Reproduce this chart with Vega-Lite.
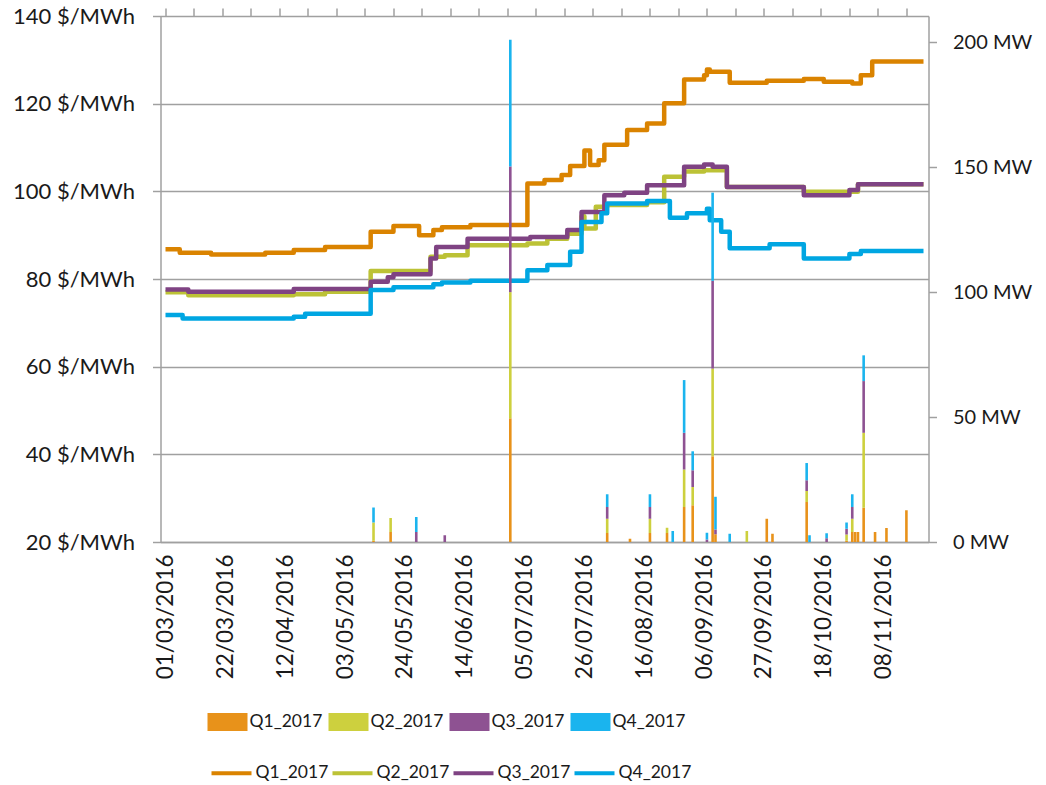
{
  "$schema": "https://vega.github.io/schema/vega-lite/v6.json",
  "width": 768,
  "height": 526,
  "autosize": {"type": "none"},
  "padding": {"left": 160.5, "top": 16, "right": 117.5, "bottom": 243},
  "config": {
    "view": {"stroke": null},
    "font": "Lato",
    "axis": {
      "labelFont": "Lato",
      "labelColor": "#1a1a1a",
      "domainColor": "#a0a0a0",
      "tickColor": "#a0a0a0",
      "gridColor": "#a0a0a0",
      "domainWidth": 1.5,
      "tickWidth": 1.5,
      "gridWidth": 1.5,
      "tickSize": 8
    },
    "legend": {"labelFont": "Lato", "labelColor": "#1a1a1a", "padding": 0}
  },
  "datasets": {
    "lines": [
      {"date": "2016-03-01", "series": "Q1_2017", "price": 86.8},
      {"date": "2016-03-06", "series": "Q1_2017", "price": 86.0},
      {"date": "2016-03-17", "series": "Q1_2017", "price": 85.6},
      {"date": "2016-04-05", "series": "Q1_2017", "price": 86.0},
      {"date": "2016-04-15", "series": "Q1_2017", "price": 86.6},
      {"date": "2016-04-26", "series": "Q1_2017", "price": 87.3},
      {"date": "2016-05-12", "series": "Q1_2017", "price": 90.8},
      {"date": "2016-05-20", "series": "Q1_2017", "price": 92.1},
      {"date": "2016-05-29", "series": "Q1_2017", "price": 90.0},
      {"date": "2016-06-03", "series": "Q1_2017", "price": 91.2},
      {"date": "2016-06-06", "series": "Q1_2017", "price": 91.8},
      {"date": "2016-06-16", "series": "Q1_2017", "price": 92.3},
      {"date": "2016-07-06", "series": "Q1_2017", "price": 101.8},
      {"date": "2016-07-12", "series": "Q1_2017", "price": 102.6},
      {"date": "2016-07-18", "series": "Q1_2017", "price": 103.7},
      {"date": "2016-07-21", "series": "Q1_2017", "price": 105.8},
      {"date": "2016-07-26", "series": "Q1_2017", "price": 109.3},
      {"date": "2016-07-28", "series": "Q1_2017", "price": 106.0},
      {"date": "2016-07-31", "series": "Q1_2017", "price": 107.1},
      {"date": "2016-08-02", "series": "Q1_2017", "price": 110.6},
      {"date": "2016-08-10", "series": "Q1_2017", "price": 114.0},
      {"date": "2016-08-17", "series": "Q1_2017", "price": 115.5},
      {"date": "2016-08-23", "series": "Q1_2017", "price": 120.1},
      {"date": "2016-08-30", "series": "Q1_2017", "price": 125.5},
      {"date": "2016-09-06", "series": "Q1_2017", "price": 126.5},
      {"date": "2016-09-07", "series": "Q1_2017", "price": 127.8},
      {"date": "2016-09-08", "series": "Q1_2017", "price": 127.3},
      {"date": "2016-09-15", "series": "Q1_2017", "price": 124.8},
      {"date": "2016-09-28", "series": "Q1_2017", "price": 125.2},
      {"date": "2016-10-11", "series": "Q1_2017", "price": 125.6},
      {"date": "2016-10-18", "series": "Q1_2017", "price": 125.0},
      {"date": "2016-10-28", "series": "Q1_2017", "price": 124.6},
      {"date": "2016-10-31", "series": "Q1_2017", "price": 126.5},
      {"date": "2016-11-04", "series": "Q1_2017", "price": 129.6},
      {"date": "2016-11-22", "series": "Q1_2017", "price": 129.6},

      {"date": "2016-03-01", "series": "Q2_2017", "price": 77.0},
      {"date": "2016-03-09", "series": "Q2_2017", "price": 76.3},
      {"date": "2016-04-15", "series": "Q2_2017", "price": 76.5},
      {"date": "2016-04-26", "series": "Q2_2017", "price": 77.1},
      {"date": "2016-05-12", "series": "Q2_2017", "price": 81.8},
      {"date": "2016-06-02", "series": "Q2_2017", "price": 85.1},
      {"date": "2016-06-07", "series": "Q2_2017", "price": 85.4},
      {"date": "2016-06-15", "series": "Q2_2017", "price": 87.7},
      {"date": "2016-07-06", "series": "Q2_2017", "price": 88.1},
      {"date": "2016-07-13", "series": "Q2_2017", "price": 89.2},
      {"date": "2016-07-20", "series": "Q2_2017", "price": 90.3},
      {"date": "2016-07-25", "series": "Q2_2017", "price": 94.3},
      {"date": "2016-07-26", "series": "Q2_2017", "price": 91.5},
      {"date": "2016-07-30", "series": "Q2_2017", "price": 96.5},
      {"date": "2016-08-03", "series": "Q2_2017", "price": 96.9},
      {"date": "2016-08-17", "series": "Q2_2017", "price": 97.5},
      {"date": "2016-08-23", "series": "Q2_2017", "price": 103.3},
      {"date": "2016-08-30", "series": "Q2_2017", "price": 104.5},
      {"date": "2016-09-06", "series": "Q2_2017", "price": 104.8},
      {"date": "2016-09-14", "series": "Q2_2017", "price": 101.0},
      {"date": "2016-10-11", "series": "Q2_2017", "price": 99.9},
      {"date": "2016-10-30", "series": "Q2_2017", "price": 101.6},
      {"date": "2016-11-22", "series": "Q2_2017", "price": 101.6},

      {"date": "2016-03-01", "series": "Q3_2017", "price": 77.6},
      {"date": "2016-03-09", "series": "Q3_2017", "price": 77.1},
      {"date": "2016-04-15", "series": "Q3_2017", "price": 77.7},
      {"date": "2016-05-12", "series": "Q3_2017", "price": 79.4},
      {"date": "2016-05-18", "series": "Q3_2017", "price": 80.4},
      {"date": "2016-05-20", "series": "Q3_2017", "price": 81.1},
      {"date": "2016-06-02", "series": "Q3_2017", "price": 84.7},
      {"date": "2016-06-04", "series": "Q3_2017", "price": 87.3},
      {"date": "2016-06-15", "series": "Q3_2017", "price": 89.2},
      {"date": "2016-07-07", "series": "Q3_2017", "price": 89.6},
      {"date": "2016-07-20", "series": "Q3_2017", "price": 91.2},
      {"date": "2016-07-25", "series": "Q3_2017", "price": 95.3},
      {"date": "2016-08-02", "series": "Q3_2017", "price": 99.1},
      {"date": "2016-08-09", "series": "Q3_2017", "price": 99.7},
      {"date": "2016-08-17", "series": "Q3_2017", "price": 101.4},
      {"date": "2016-08-30", "series": "Q3_2017", "price": 105.6},
      {"date": "2016-09-06", "series": "Q3_2017", "price": 106.1},
      {"date": "2016-09-09", "series": "Q3_2017", "price": 105.6},
      {"date": "2016-09-14", "series": "Q3_2017", "price": 101.0},
      {"date": "2016-10-11", "series": "Q3_2017", "price": 99.1},
      {"date": "2016-10-27", "series": "Q3_2017", "price": 100.3},
      {"date": "2016-10-30", "series": "Q3_2017", "price": 101.6},
      {"date": "2016-11-22", "series": "Q3_2017", "price": 101.6},

      {"date": "2016-03-01", "series": "Q4_2017", "price": 71.8},
      {"date": "2016-03-07", "series": "Q4_2017", "price": 71.0},
      {"date": "2016-04-15", "series": "Q4_2017", "price": 71.4},
      {"date": "2016-04-19", "series": "Q4_2017", "price": 72.1},
      {"date": "2016-05-12", "series": "Q4_2017", "price": 77.5},
      {"date": "2016-05-20", "series": "Q4_2017", "price": 78.1},
      {"date": "2016-06-03", "series": "Q4_2017", "price": 78.8},
      {"date": "2016-06-06", "series": "Q4_2017", "price": 79.2},
      {"date": "2016-06-16", "series": "Q4_2017", "price": 79.6},
      {"date": "2016-07-06", "series": "Q4_2017", "price": 82.0},
      {"date": "2016-07-13", "series": "Q4_2017", "price": 83.2},
      {"date": "2016-07-21", "series": "Q4_2017", "price": 86.2},
      {"date": "2016-07-25", "series": "Q4_2017", "price": 93.0},
      {"date": "2016-08-01", "series": "Q4_2017", "price": 95.0},
      {"date": "2016-08-03", "series": "Q4_2017", "price": 97.2},
      {"date": "2016-08-17", "series": "Q4_2017", "price": 97.8},
      {"date": "2016-08-25", "series": "Q4_2017", "price": 94.0},
      {"date": "2016-08-31", "series": "Q4_2017", "price": 95.0},
      {"date": "2016-09-07", "series": "Q4_2017", "price": 96.0},
      {"date": "2016-09-08", "series": "Q4_2017", "price": 93.4},
      {"date": "2016-09-12", "series": "Q4_2017", "price": 90.8},
      {"date": "2016-09-15", "series": "Q4_2017", "price": 87.0},
      {"date": "2016-09-29", "series": "Q4_2017", "price": 87.9},
      {"date": "2016-10-11", "series": "Q4_2017", "price": 84.7},
      {"date": "2016-10-27", "series": "Q4_2017", "price": 85.7},
      {"date": "2016-10-31", "series": "Q4_2017", "price": 86.4},
      {"date": "2016-11-22", "series": "Q4_2017", "price": 86.4}
    ],
    "bars": [
      {"date": "2016-05-13", "series": "Q1_2017", "mw": 0.5},
      {"date": "2016-05-13", "series": "Q2_2017", "mw": 7.3},
      {"date": "2016-05-13", "series": "Q4_2017", "mw": 6.0},
      {"date": "2016-05-19", "series": "Q1_2017", "mw": 4.0},
      {"date": "2016-05-19", "series": "Q2_2017", "mw": 5.6},
      {"date": "2016-05-28", "series": "Q3_2017", "mw": 4.0},
      {"date": "2016-05-28", "series": "Q4_2017", "mw": 6.0},
      {"date": "2016-06-07", "series": "Q3_2017", "mw": 2.7},
      {"date": "2016-06-30", "series": "Q1_2017", "mw": 49.5},
      {"date": "2016-06-30", "series": "Q2_2017", "mw": 50.5},
      {"date": "2016-06-30", "series": "Q3_2017", "mw": 50.3},
      {"date": "2016-06-30", "series": "Q4_2017", "mw": 50.7},
      {"date": "2016-08-03", "series": "Q1_2017", "mw": 3.6},
      {"date": "2016-08-03", "series": "Q2_2017", "mw": 5.7},
      {"date": "2016-08-03", "series": "Q3_2017", "mw": 4.7},
      {"date": "2016-08-03", "series": "Q4_2017", "mw": 5.1},
      {"date": "2016-08-11", "series": "Q1_2017", "mw": 1.3},
      {"date": "2016-08-18", "series": "Q1_2017", "mw": 3.6},
      {"date": "2016-08-18", "series": "Q2_2017", "mw": 5.7},
      {"date": "2016-08-18", "series": "Q3_2017", "mw": 4.7},
      {"date": "2016-08-18", "series": "Q4_2017", "mw": 5.1},
      {"date": "2016-08-24", "series": "Q1_2017", "mw": 3.6},
      {"date": "2016-08-24", "series": "Q2_2017", "mw": 2.1},
      {"date": "2016-08-26", "series": "Q4_2017", "mw": 4.4},
      {"date": "2016-08-30", "series": "Q1_2017", "mw": 14.0},
      {"date": "2016-08-30", "series": "Q2_2017", "mw": 15.0},
      {"date": "2016-08-30", "series": "Q3_2017", "mw": 14.7},
      {"date": "2016-08-30", "series": "Q4_2017", "mw": 21.1},
      {"date": "2016-09-02", "series": "Q1_2017", "mw": 14.7},
      {"date": "2016-09-02", "series": "Q2_2017", "mw": 7.3},
      {"date": "2016-09-02", "series": "Q3_2017", "mw": 6.7},
      {"date": "2016-09-02", "series": "Q4_2017", "mw": 7.6},
      {"date": "2016-09-07", "series": "Q3_2017", "mw": 1.0},
      {"date": "2016-09-07", "series": "Q4_2017", "mw": 2.7},
      {"date": "2016-09-09", "series": "Q1_2017", "mw": 34.3},
      {"date": "2016-09-09", "series": "Q2_2017", "mw": 35.1},
      {"date": "2016-09-09", "series": "Q3_2017", "mw": 35.1},
      {"date": "2016-09-09", "series": "Q4_2017", "mw": 35.3},
      {"date": "2016-09-10", "series": "Q1_2017", "mw": 3.1},
      {"date": "2016-09-10", "series": "Q3_2017", "mw": 1.9},
      {"date": "2016-09-10", "series": "Q4_2017", "mw": 13.1},
      {"date": "2016-09-15", "series": "Q4_2017", "mw": 3.3},
      {"date": "2016-09-21", "series": "Q2_2017", "mw": 4.4},
      {"date": "2016-09-28", "series": "Q1_2017", "mw": 9.3},
      {"date": "2016-09-30", "series": "Q1_2017", "mw": 3.3},
      {"date": "2016-10-12", "series": "Q1_2017", "mw": 16.0},
      {"date": "2016-10-12", "series": "Q2_2017", "mw": 4.4},
      {"date": "2016-10-12", "series": "Q3_2017", "mw": 4.3},
      {"date": "2016-10-12", "series": "Q4_2017", "mw": 6.9},
      {"date": "2016-10-13", "series": "Q4_2017", "mw": 2.7},
      {"date": "2016-10-19", "series": "Q3_2017", "mw": 1.5},
      {"date": "2016-10-19", "series": "Q4_2017", "mw": 2.0},
      {"date": "2016-10-26", "series": "Q1_2017", "mw": 0.5},
      {"date": "2016-10-26", "series": "Q2_2017", "mw": 2.5},
      {"date": "2016-10-26", "series": "Q3_2017", "mw": 2.3},
      {"date": "2016-10-26", "series": "Q4_2017", "mw": 2.5},
      {"date": "2016-10-28", "series": "Q1_2017", "mw": 4.0},
      {"date": "2016-10-28", "series": "Q2_2017", "mw": 5.3},
      {"date": "2016-10-28", "series": "Q3_2017", "mw": 4.7},
      {"date": "2016-10-28", "series": "Q4_2017", "mw": 5.1},
      {"date": "2016-10-29", "series": "Q1_2017", "mw": 4.0},
      {"date": "2016-10-30", "series": "Q1_2017", "mw": 4.0},
      {"date": "2016-11-01", "series": "Q1_2017", "mw": 13.7},
      {"date": "2016-11-01", "series": "Q2_2017", "mw": 30.0},
      {"date": "2016-11-01", "series": "Q3_2017", "mw": 20.7},
      {"date": "2016-11-01", "series": "Q4_2017", "mw": 10.3},
      {"date": "2016-11-05", "series": "Q1_2017", "mw": 4.0},
      {"date": "2016-11-09", "series": "Q1_2017", "mw": 5.6},
      {"date": "2016-11-16", "series": "Q1_2017", "mw": 12.7}
    ]
  },
  "layer": [
    {
      "data": {"name": "lines"},
      "mark": {"type": "line", "interpolate": "step-after", "strokeWidth": 4.5, "strokeJoin": "round", "strokeCap": "butt"},
      "encoding": {
        "x": {
          "field": "date", "type": "temporal",
          "scale": {"type": "utc", "domain": [{"year": 2016, "month": 3, "date": 1, "utc": true}, {"year": 2016, "month": 11, "date": 22, "utc": true}], "nice": false},
          "axis": {
            "title": null, "grid": false, "ticks": false, "domain": true,
            "format": "%d/%m/%Y", "labelAngle": 270, "labelFontSize": 22.5, "labelPadding": 12,
            "values": [
              {"year": 2016, "month": 3, "date": 1, "utc": true},
              {"year": 2016, "month": 3, "date": 22, "utc": true},
              {"year": 2016, "month": 4, "date": 12, "utc": true},
              {"year": 2016, "month": 5, "date": 3, "utc": true},
              {"year": 2016, "month": 5, "date": 24, "utc": true},
              {"year": 2016, "month": 6, "date": 14, "utc": true},
              {"year": 2016, "month": 7, "date": 5, "utc": true},
              {"year": 2016, "month": 7, "date": 26, "utc": true},
              {"year": 2016, "month": 8, "date": 16, "utc": true},
              {"year": 2016, "month": 9, "date": 6, "utc": true},
              {"year": 2016, "month": 9, "date": 27, "utc": true},
              {"year": 2016, "month": 10, "date": 18, "utc": true},
              {"year": 2016, "month": 11, "date": 8, "utc": true}
            ]
          }
        },
        "y": {
          "field": "price", "type": "quantitative",
          "scale": {"domain": [20, 140], "nice": false, "zero": false},
          "axis": {
            "title": null, "orient": "left", "values": [20, 40, 60, 80, 100, 120, 140],
            "labelExpr": "datum.value + ' $/MWh'", "labelFontSize": 22, "labelPadding": 18, "grid": true
          }
        },
        "stroke": {
          "field": "series", "type": "nominal",
          "scale": {"range": ["#DA8300", "#BCC236", "#7F4383", "#00A6E2"]},
          "legend": {
            "orient": "none", "legendX": 49, "legendY": 735, "direction": "horizontal", "columns": 4, "title": null,
            "symbolType": "M-1,0H1", "symbolSize": 1600, "symbolStrokeWidth": 4,
            "labelFontSize": 17.5, "labelOffset": 2, "columnPadding": -4
          }
        }
      }
    },
    {
      "data": {"name": "bars"},
      "mark": {"type": "bar", "width": 2.6},
      "encoding": {
        "x": {
          "field": "date", "type": "temporal",
          "scale": {"type": "utc", "domain": [{"year": 2016, "month": 3, "date": 1, "utc": true}, {"year": 2016, "month": 11, "date": 22, "utc": true}], "nice": false},
          "axis": {
            "title": null, "grid": false, "labels": false, "domain": false, "ticks": true, "tickSize": 8,
            "values": [
              {"year": 2016, "month": 3, "date": 1, "utc": true},
              {"year": 2016, "month": 3, "date": 11, "utc": true},
              {"year": 2016, "month": 3, "date": 21, "utc": true},
              {"year": 2016, "month": 3, "date": 31, "utc": true},
              {"year": 2016, "month": 4, "date": 10, "utc": true},
              {"year": 2016, "month": 4, "date": 20, "utc": true},
              {"year": 2016, "month": 4, "date": 30, "utc": true},
              {"year": 2016, "month": 5, "date": 10, "utc": true},
              {"year": 2016, "month": 5, "date": 20, "utc": true},
              {"year": 2016, "month": 5, "date": 30, "utc": true},
              {"year": 2016, "month": 6, "date": 9, "utc": true},
              {"year": 2016, "month": 6, "date": 19, "utc": true},
              {"year": 2016, "month": 6, "date": 29, "utc": true},
              {"year": 2016, "month": 7, "date": 9, "utc": true},
              {"year": 2016, "month": 7, "date": 19, "utc": true},
              {"year": 2016, "month": 7, "date": 29, "utc": true},
              {"year": 2016, "month": 8, "date": 8, "utc": true},
              {"year": 2016, "month": 8, "date": 18, "utc": true},
              {"year": 2016, "month": 8, "date": 28, "utc": true},
              {"year": 2016, "month": 9, "date": 7, "utc": true},
              {"year": 2016, "month": 9, "date": 17, "utc": true},
              {"year": 2016, "month": 9, "date": 27, "utc": true},
              {"year": 2016, "month": 10, "date": 7, "utc": true},
              {"year": 2016, "month": 10, "date": 17, "utc": true},
              {"year": 2016, "month": 10, "date": 27, "utc": true},
              {"year": 2016, "month": 11, "date": 6, "utc": true},
              {"year": 2016, "month": 11, "date": 16, "utc": true}
            ]
          }
        },
        "y": {
          "field": "mw", "type": "quantitative", "stack": "zero",
          "scale": {"domain": [0, 210.5], "nice": false, "zero": true},
          "axis": {
            "title": null, "orient": "right", "values": [0, 50, 100, 150, 200], "grid": false,
            "labelExpr": "datum.value + ' MW'", "labelFontSize": 20, "labelPadding": 16
          }
        },
        "fill": {
          "field": "series", "type": "nominal",
          "scale": {"range": ["#E8921A", "#CDD03E", "#8E5292", "#1AB4EE"]},
          "legend": {
            "orient": "none", "legendX": 47, "legendY": 686, "direction": "horizontal", "columns": 4, "title": null,
            "symbolType": "M-1,-0.45H1V0.45H-1Z", "symbolSize": 1600, "symbolStrokeWidth": 0,
            "labelFontSize": 17.5, "labelOffset": 2, "columnPadding": 6
          }
        },
        "order": {"field": "series", "sort": "ascending"}
      }
    }
  ],
  "resolve": {"scale": {"y": "independent"}, "axis": {"x": "independent"}}
}
